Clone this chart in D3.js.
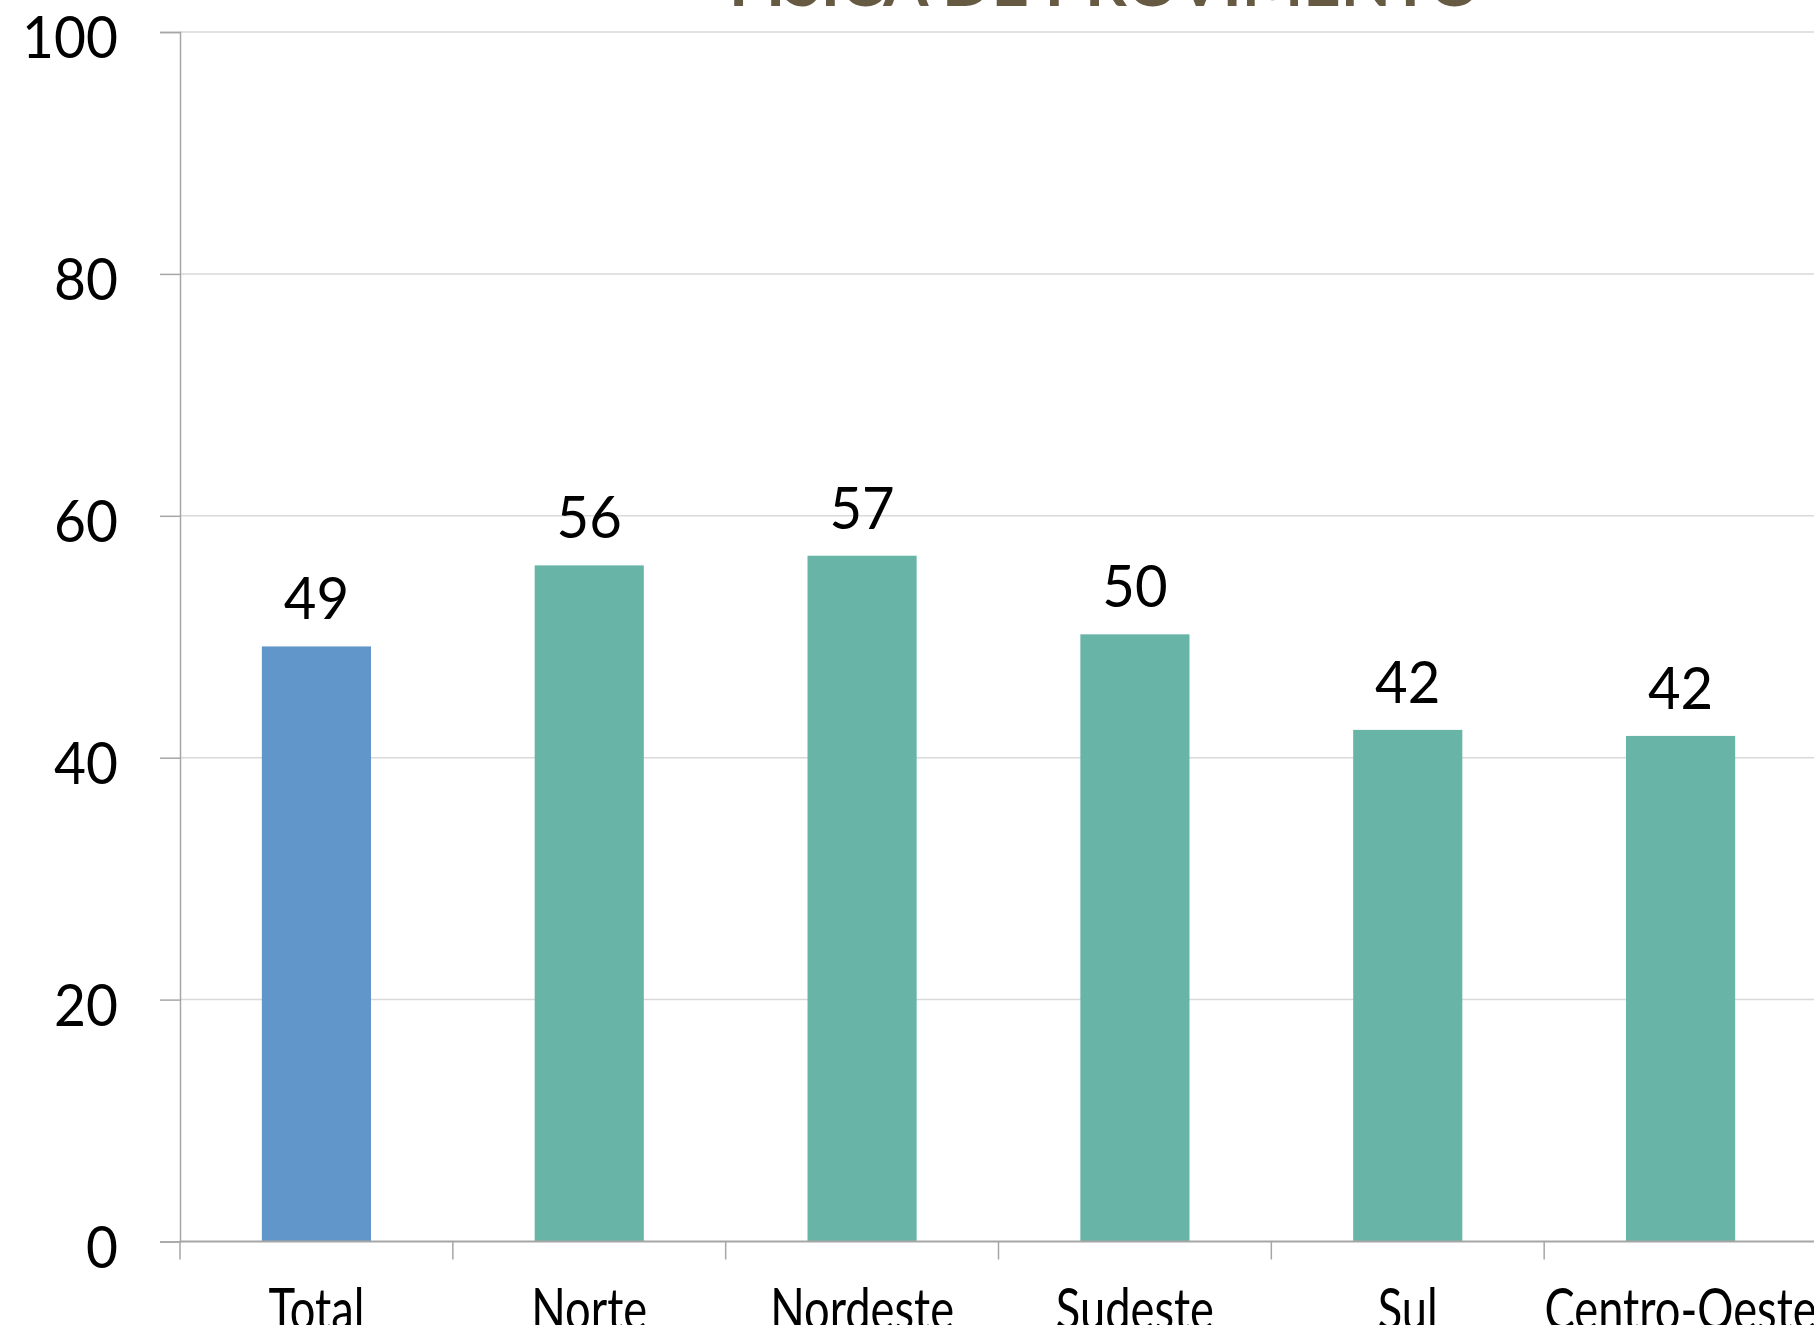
<!DOCTYPE html>
<html>
<head>
<meta charset="utf-8">
<script src="https://cdn.jsdelivr.net/npm/d3@7"></script>
<style>
  body { margin: 0; background: #fff; overflow: hidden; }
  svg { display: block; font-family: Lato, "Open Sans", sans-serif; }
</style>
</head>
<body>
<svg id="chart"></svg>
<script>
// dados do gráfico
const categories = ["Total", "Norte", "Nordeste", "Sudeste", "Sul", "Centro-Oeste"];
const values = [49.2, 55.9, 56.7, 50.2, 42.3, 41.8];
const valueLabels = ["49", "56", "57", "50", "42", "42"];
const yTicks = [0, 20, 40, 60, 80, 100];
const titleText = "FÍSICA DE PROVIMENTO";

const W = 1814, H = 1325;
const MARGIN = {TOP: 32, LEFT: 180, BOTTOM: 83.5, RIGHT: -3};
const FONT = 58;

const svg = d3.select("#chart").attr("width", W).attr("height", H);

const xScale = d3.scaleBand()
    .domain(categories)
    .range([MARGIN.LEFT, W - MARGIN.RIGHT])
    .paddingInner(0.6)
    .paddingOuter(0.3);
// faixa completa p/ os ticks entre categorias
const bandScale = d3.scaleBand().domain(categories).range([MARGIN.LEFT, W - MARGIN.RIGHT]);
const yScale = d3.scaleLinear().domain([0, 100]).range([H - MARGIN.BOTTOM, MARGIN.TOP]);

// comprime o texto na horizontal (Lato é mais larga que Calibri)
function narrow(sel, k){
    sel.each(function(){
        const len = this.getComputedTextLength();
        d3.select(this).attr("textLength", len * k).attr("lengthAdjust", "spacingAndGlyphs");
    });
}

// titulo (cortado no topo)
const title = svg.append("text")
    .attr("x", 1105)
    .attr("y", 6)
    .attr("text-anchor", "middle")
    .attr("font-weight", "bold")
    .attr("fill", "#675a43")
    .attr("font-size", 60)
    .text(titleText);
const tw = title.node().getComputedTextLength();
title.attr("font-size", 60 * 752 / tw);

// linhas de grade
svg.append("g")
    .selectAll("line")
    .data(yTicks.filter(d => d > 0))
    .join("line")
    .attr("x1", MARGIN.LEFT)
    .attr("x2", W)
    .attr("y1", d => yScale(d))
    .attr("y2", d => yScale(d))
    .attr("stroke", "#d9d9d9")
    .attr("stroke-width", 1.5);

// barras
svg.append("g")
    .selectAll("rect")
    .data(values)
    .join("rect")
    .attr("x", (d, i) => xScale(categories[i]))
    .attr("width", xScale.bandwidth())
    .attr("y", d => yScale(d))
    .attr("height", d => yScale(0) - yScale(d))
    .attr("fill", (d, i) => i == 0 ? "#6096c9" : "#68b5a8");

// rotulos de valor
svg.append("g")
    .selectAll("text")
    .data(values)
    .join("text")
    .attr("x", (d, i) => xScale(categories[i]) + xScale.bandwidth() / 2)
    .attr("y", d => yScale(d) - 27)
    .attr("text-anchor", "middle")
    .attr("font-size", FONT)
    .attr("fill", "#000")
    .text((d, i) => valueLabels[i])
    .call(narrow, 0.97);

// eixo Y
const yAxis = svg.append("g")
    .attr("transform", "translate(" + MARGIN.LEFT + ",0)")
    .call(d3.axisLeft(yScale).tickValues(yTicks).tickSize(20).tickPadding(42));
yAxis.select(".domain").attr("stroke", "#a6a6a6").attr("stroke-width", 1.5);
yAxis.selectAll(".tick line").attr("stroke", "#a6a6a6").attr("stroke-width", 1.5);
yAxis.selectAll(".tick text")
    .attr("font-size", FONT)
    .attr("font-family", "Lato, 'Open Sans', sans-serif")
    .attr("fill", "#000")
    .attr("dy", "0.44em")
    .call(narrow, 0.95);

// eixo X
const xAxisY = yScale(0);
svg.append("line")
    .attr("x1", MARGIN.LEFT).attr("x2", W)
    .attr("y1", xAxisY).attr("y2", xAxisY)
    .attr("stroke", "#a6a6a6").attr("stroke-width", 2);
svg.append("g")
    .selectAll("line")
    .data(categories)
    .join("line")
    .attr("x1", d => bandScale(d))
    .attr("x2", d => bandScale(d))
    .attr("y1", xAxisY)
    .attr("y2", xAxisY + 18)
    .attr("stroke", "#a6a6a6")
    .attr("stroke-width", 1.5);
svg.append("g")
    .selectAll("text")
    .data(categories)
    .join("text")
    .attr("x", d => xScale(d) + xScale.bandwidth() / 2)
    .attr("y", xAxisY + 88)
    .attr("text-anchor", "middle")
    .attr("font-size", FONT)
    .attr("fill", "#000")
    .text(d => d)
    .call(narrow, 0.78);
</script>
</body>
</html>
